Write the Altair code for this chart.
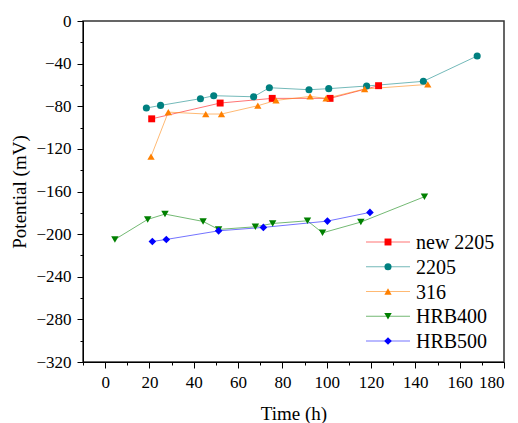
import altair as alt
import pandas as pd

series_names = ["new 2205", "2205", "316", "HRB400", "HRB500"]
marker_colors = ["#FF0000", "#008080", "#FF8000", "#008000", "#0000FF"]
marker_shapes = ["square", "circle", "triangle-up", "triangle-down", "diamond"]
marker_sizes = [48, 58, 80, 80, 62]

new2205_t = [21.0, 51.9, 75.4, 101.5, 123.4]
new2205_v = [-91.8, -77.0, -72.6, -72.6, -60.7]
s2205_t = [18.6, 25.0, 43.0, 49.0, 67.0, 74.1, 92.0, 100.9, 118.0, 143.6, 167.9]
s2205_v = [-81.7, -79.2, -72.9, -70.1, -71.1, -62.6, -64.5, -63.5, -61.0, -56.6, -32.8]
s316_t = [20.7, 28.5, 45.4, 52.5, 68.9, 77.1, 92.5, 99.7, 117.1, 145.6]
s316_v = [-127.2, -85.5, -87.3, -87.3, -79.5, -74.5, -70.8, -72.6, -63.8, -59.5]
hrb400_t = [4.4, 19.2, 27.0, 44.2, 51.2, 67.8, 75.6, 91.3, 98.1, 115.4, 144.1]
hrb400_v = [-205.0, -186.2, -181.2, -188.1, -195.6, -193.1, -190.0, -187.5, -198.8, -188.7, -164.9]
hrb500_t = [21.3, 27.6, 51.2, 71.4, 100.3, 119.5]
hrb500_v = [-206.9, -205.0, -196.9, -193.7, -187.8, -179.6]

x_major = [0, 20, 40, 60, 80, 100, 120, 140, 160, 180]
x_minor = [-10, 10, 30, 50, 70, 90, 110, 130, 150, 170]
y_major = [-320, -280, -240, -200, -160, -120, -80, -40, 0]
y_minor = [-300, -260, -220, -180, -140, -100, -60, -20]

rows = []
for name, ts, vs in zip(series_names,
                        [new2205_t, s2205_t, s316_t, hrb400_t, hrb500_t],
                        [new2205_v, s2205_v, s316_v, hrb400_v, hrb500_v]):
    for i, (t, v) in enumerate(zip(ts, vs)):
        rows.append({"series": name, "t": t, "v": v, "i": i})
df = pd.DataFrame(rows)
leg_df = pd.DataFrame({"series": series_names})

FONT = "Liberation Serif"


def xscale():
    return alt.Scale(domain=[-10, 180], nice=False, zero=False)


def yscale():
    return alt.Scale(domain=[-320, 0], nice=False, zero=False)


def cscale():
    return alt.Scale(domain=series_names, range=marker_colors)


lines = alt.Chart(df).mark_line(strokeWidth=1, opacity=0.55).encode(
    x=alt.X("t:Q", scale=xscale(),
            axis=alt.Axis(values=x_major, title="Time (h)", orient="bottom", grid=False,
                          tickSize=6, tickColor="black", domainColor="black",
                          labelPadding=6, titlePadding=14, format="d")),
    y=alt.Y("v:Q", scale=yscale(),
            axis=alt.Axis(values=y_major, title="Potential (mV)", orient="left", grid=False,
                          tickSize=6, tickColor="black", domainColor="black",
                          labelPadding=6, titlePadding=6, format="d")),
    color=alt.Color("series:N", scale=cscale(), legend=None),
    detail="series:N",
    order="i:Q",
)

points = alt.Chart(df).mark_point(filled=True, opacity=1, strokeWidth=0).encode(
    x=alt.X("t:Q", scale=xscale(),
            axis=alt.Axis(values=x_minor, labels=False, tickSize=3, tickColor="black",
                          domain=False, grid=False, title=None, orient="bottom")),
    y=alt.Y("v:Q", scale=yscale(),
            axis=alt.Axis(values=y_minor, labels=False, tickSize=3, tickColor="black",
                          domain=False, grid=False, title=None, orient="left")),
    color=alt.Color("series:N", scale=cscale(), legend=None),
    shape=alt.Shape("series:N", scale=alt.Scale(domain=series_names, range=marker_shapes), legend=None),
    size=alt.Size("series:N", scale=alt.Scale(domain=series_names, range=marker_sizes), legend=None),
)

# legend built from the series names
leg_y = alt.Y("series:N", scale=alt.Scale(type="point", domain=series_names, range=[221, 320], padding=0),
              axis=None)
leg_lines = alt.Chart(leg_df).mark_rule(strokeWidth=1, opacity=0.55).encode(
    x=alt.value(283), x2=alt.value(327), y=leg_y,
    color=alt.Color("series:N", scale=cscale(), legend=None),
)
leg_marks = alt.Chart(leg_df).mark_point(filled=True, opacity=1, strokeWidth=0).encode(
    x=alt.value(305), y=leg_y,
    color=alt.Color("series:N", scale=cscale(), legend=None),
    shape=alt.Shape("series:N", scale=alt.Scale(domain=series_names, range=marker_shapes), legend=None),
    size=alt.Size("series:N", scale=alt.Scale(domain=series_names, range=marker_sizes), legend=None),
)
leg_text = alt.Chart(leg_df).mark_text(align="left", baseline="middle", font=FONT, fontSize=20,
                                       color="black", dy=1).encode(
    x=alt.value(333), y=leg_y, text="series:N",
)

chart = alt.layer(lines, points, leg_lines, leg_marks, leg_text).resolve_scale(
    x="independent", y="independent", color="independent", shape="independent", size="independent"
).resolve_axis(x="independent", y="independent").properties(
    width=421, height=341,
    padding={"left": 2, "top": 4, "right": 5, "bottom": 2},
).configure_view(stroke="#333333", strokeWidth=1.5).configure_axis(
    labelFont=FONT, labelFontSize=17, labelColor="black",
    titleFont=FONT, titleFontSize=19, titleColor="black", titleFontWeight="normal",
    domainWidth=1, tickWidth=1,
)

chart.save("out.html", embed_options={"renderer": "svg", "actions": False})
